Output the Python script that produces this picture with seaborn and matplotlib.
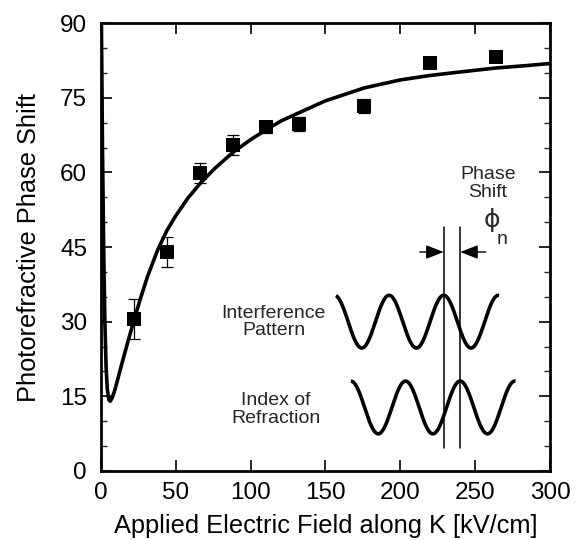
import numpy as np
import matplotlib
matplotlib.use("Agg")
import matplotlib.pyplot as plt
import seaborn as sns

field_kv = [22, 44, 66, 88, 110, 132, 176, 220, 264]
phase_deg = [30.5, 44.0, 59.8, 65.5, 69.2, 69.7, 73.4, 82.1, 83.3]
phase_err = [4.0, 3.0, 2.0, 2.0, 1.2, 1.4, 1.4, 0.4, 0.4]

# theoretical curve, points
curve_x = [0.3, 1.0, 1.8, 2.6, 3.4, 4.2, 5.2, 6.2, 7.5, 9, 11, 14, 18, 22, 26,
           31, 38, 44, 50, 58, 66, 76, 88, 100, 110, 120, 133, 150, 176, 200,
           220, 240, 264, 285, 300]
curve_y = [90, 65, 45, 30, 21, 16.5, 14.3, 14.0, 14.7, 16.0, 18.2, 21.6, 26.0,
           30.2, 34.3, 39.0, 44.5, 48.3, 51.3, 54.8, 57.7, 60.8, 64.0, 66.6,
           68.5, 70.3, 72.1, 74.4, 77.0, 78.6, 79.5, 80.2, 81.0, 81.5, 81.9]

# schematic inset: two gratings shifted by phi_n
WAVE_PERIOD = 36.5
WAVE_AMP = 5.3
pattern_span = (157, 266)
pattern_peak = 229
pattern_mid = 30.0
index_span = (167, 277)
index_peak = 240
index_mid = 12.75

sns.set_theme(style="ticks")
plt.rcParams["font.family"] = ["Liberation Sans", "DejaVu Sans"]
plt.rcParams.update({
    "xtick.direction": "in",
    "ytick.direction": "in",
    "xtick.top": True,
    "ytick.right": True,
    "axes.linewidth": 2.0,
})

fig = plt.figure(figsize=(5.82, 5.40), dpi=100)
ax = fig.add_axes([0.1735, 0.128, 0.7715, 0.829])

sns.lineplot(x=curve_x, y=curve_y, sort=False, estimator=None,
             color="black", linewidth=2.6, ax=ax)
ax.errorbar(field_kv, phase_deg, yerr=phase_err, fmt="none",
            ecolor="black", elinewidth=0.9, capsize=4.5, capthick=0.9)
sns.scatterplot(x=field_kv, y=phase_deg, marker="s", s=90, color="black",
                edgecolor="black", linewidth=0, ax=ax, zorder=5)


def wave(span, peak, mid):
    xs = np.linspace(span[0], span[1], 200)
    ys = mid + WAVE_AMP * np.cos(2 * np.pi * (xs - peak) / WAVE_PERIOD)
    return xs, ys


for span, peak, mid in [(pattern_span, pattern_peak, pattern_mid),
                        (index_span, index_peak, index_mid)]:
    wx, wy = wave(span, peak, mid)
    ax.plot(wx, wy, color="black", linewidth=2.6, solid_capstyle="butt")

for xv in (pattern_peak, index_peak):
    ax.plot([xv, xv], [4.6, 49], color="black", linewidth=1.1)

arrow_kw = dict(arrowstyle="-|>,head_length=0.9,head_width=0.35",
                color="black", linewidth=1.0, shrinkA=0, shrinkB=0)
ax.annotate("", xy=(pattern_peak, 44), xytext=(213, 44), arrowprops=arrow_kw)
ax.annotate("", xy=(index_peak, 44), xytext=(257, 44), arrowprops=arrow_kw)

ax.text(258.5, 57.8, "Phase\nShift", ha="center", va="center",
        fontsize=14, linespacing=1.05)
ax.text(261.0, 50.5, "\u03d5", ha="center", va="center", fontsize=18,
        family=["DejaVu Sans"])
ax.text(268.0, 46.6, "n", ha="center", va="center", fontsize=14)
ax.text(115.5, 29.9, "Interference\nPattern", ha="center", va="center",
        fontsize=14, linespacing=1.05)
ax.text(117, 12.4, "Index of\nRefraction", ha="center", va="center",
        fontsize=14, linespacing=1.05)

ax.set_xlim(0, 300)
ax.set_ylim(0, 90)
ax.set_xticks(np.arange(0, 301, 50))
ax.set_yticks(np.arange(0, 91, 15))
ax.set_yticks(np.arange(0, 91, 5), minor=True)
ax.tick_params(axis="x", which="major", length=8, width=1.2,
               labelsize=17.5, colors="black", pad=8)
ax.tick_params(axis="y", which="major", length=8, width=1.2,
               labelsize=17.5, colors="black", pad=10)
ax.tick_params(axis="y", which="minor", length=4, width=1.0,
               right=True, direction="in")
for side in ["top", "right", "left", "bottom"]:
    ax.spines[side].set_visible(True)
    ax.spines[side].set_color("black")

ax.set_xlabel("Applied Electric Field along K [kV/cm]", fontsize=18.3,
              color="black", labelpad=7)
ax.set_ylabel("Photorefractive Phase Shift", fontsize=18.3,
              color="black", labelpad=14)

fig.savefig("out.png", dpi=100, facecolor="white")
